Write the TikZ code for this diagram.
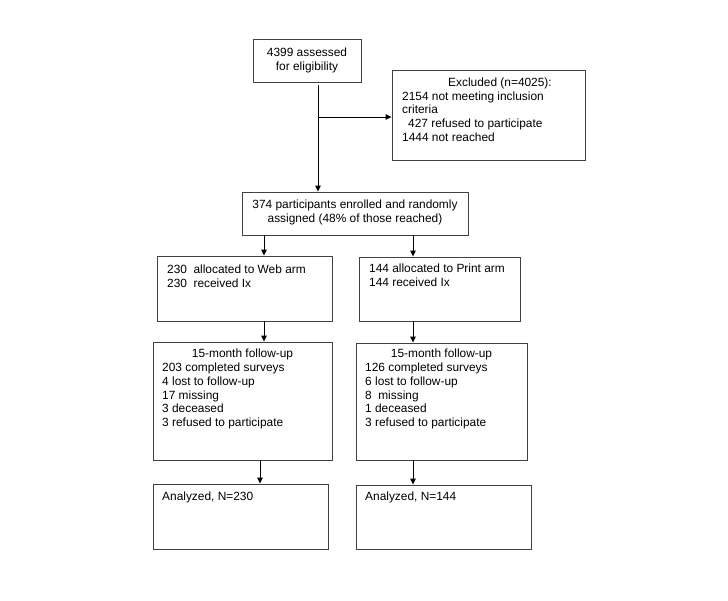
\documentclass[tikz,border=0pt]{standalone}
\usepackage{fontspec}
\setmainfont{Liberation Sans}
\usetikzlibrary{arrows.meta}
\tikzset{
  box/.style={draw=black!75, line width=0.9pt, inner sep=0pt, minimum width=#1},
  txt/.style={inner sep=0pt, font=\fontsize{11.9}{13.7}\selectfont, align=left, anchor=north west},
  ctxt/.style={inner sep=0pt, font=\fontsize{11.9}{13.7}\selectfont, align=center, anchor=north},
  arr/.style={draw=black, line width=0.9pt, -{Triangle[length=6pt,width=5.5pt]}},
  ln/.style={draw=black, line width=0.9pt}
}
\begin{document}
\begin{tikzpicture}[x=1pt, y=-1pt]
\useasboundingbox (0,0) rectangle (728,600);
% boxes
\node[box=108pt, minimum height=43pt] (top) at (307,60.5) {};
\node[box=193pt, minimum height=90pt] (excl) at (488.5,115) {};
\node[box=226pt, minimum height=43pt] (enr) at (355,213.5) {};
\node[box=175pt, minimum height=65pt] (web) at (244.5,288.5) {};
\node[box=161pt, minimum height=64pt] (print) at (439.5,289) {};
\node[box=179pt, minimum height=118pt] (fuL) at (242.5,401) {};
\node[box=171pt, minimum height=117pt] (fuR) at (441.5,401.5) {};
\node[box=175pt, minimum height=65pt] (anL) at (240.5,516.5) {};
\node[box=175pt, minimum height=64pt] (anR) at (443.5,517) {};
% texts
\node[ctxt] (tTop) at (307,47) {\strut 4399 assessed\\for eligibility};
\node[ctxt] (tExT) at (500,76.4) {\strut Excluded (n=4025):};
\node[txt] (tEx) at (402,90.4) {\strut 2154 not meeting inclusion\\criteria\\\hspace*{6pt}427 refused to participate\\1444 not reached};
\node[ctxt] (tEnr) at (355,198.7) {\strut 374 participants enrolled and randomly\\assigned (48\% of those reached)};
\node[txt] (tWeb) at (167,263.7) {\strut 230\hspace{6.5pt}allocated to Web arm\\230\hspace{6.5pt}received Ix};
\node[txt] (tPr) at (369,263) {\strut 144 allocated to Print arm\\144 received Ix};
\node[ctxt] (tFuLT) at (242.5,348) {\strut 15-month follow-up};
\node[txt] (tFuL) at (162,362) {\strut 203 completed surveys\\4 lost to follow-up\\17 missing\\3 deceased\\3 refused to participate};
\node[ctxt] (tFuRT) at (441.5,348) {\strut 15-month follow-up};
\node[txt] (tFuR) at (365,362) {\strut 126 completed surveys\\6 lost to follow-up\\8\hspace{6.5pt}missing\\1 deceased\\3 refused to participate};
\node[txt] (tAnL) at (162,490.4) {\strut Analyzed, N=230};
\node[txt] (tAnR) at (365,491) {\strut Analyzed, N=144};
% connectors
\coordinate (s) at (318,85);
\coordinate (xa) at (264,0);
\coordinate (xb) at (413,0);
\coordinate (xc) at (260,0);
\draw[arr] (s) -- (s |- enr.north);
\draw[arr] (s |- excl.west) ++(0,2) -- ([yshift=-2pt]excl.west);
\draw[arr] (enr.south -| xa) -- (web.north -| xa);
\draw[arr] (enr.south -| xb) -- (print.north -| xb);
\draw[arr] (web.south -| xa) -- (fuL.north -| xa);
\draw[arr] (print.south -| xb) -- (fuR.north -| xb);
\draw[arr] (fuL.south -| xc) -- (anL.north -| xc);
\draw[arr] (fuR.south -| xb) -- (anR.north -| xb);
\end{tikzpicture}
\end{document}
